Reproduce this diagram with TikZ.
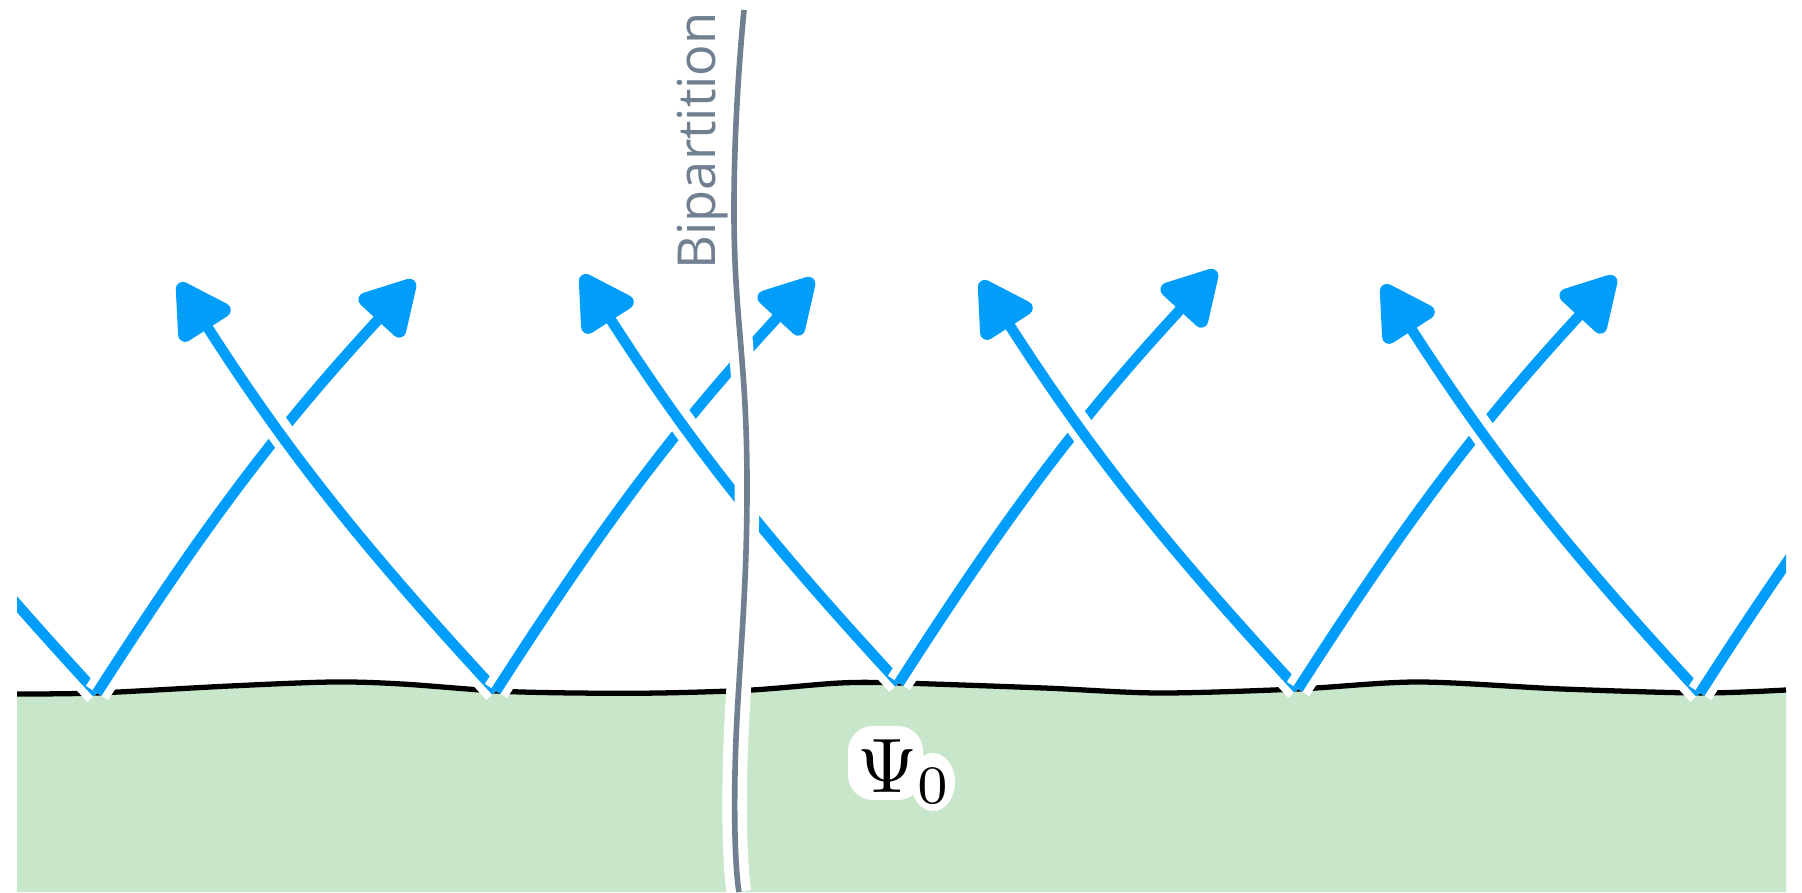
\documentclass[tikz,border=0pt]{standalone}
\usepackage{fontspec}
\newfontfamily\cutfont{Open Sans}
\usetikzlibrary{arrows.meta}
\definecolor{raycol}{RGB}{0,157,250}
\definecolor{cutcol}{RGB}{112,128,144}
\definecolor{bulkcol}{RGB}{200,230,201}

\begin{document}
\begin{tikzpicture}[
  ray/.style={draw=raycol,line width=3pt,preaction={draw=white,line width=7.5pt,-},
    -{Triangle[length=6.2mm,width=6.6mm,round,line width=4pt,sep=1.3mm]}},
  cut/.style={draw=cutcol,line width=1.6pt,preaction={draw=white,line width=7pt}}]
\useasboundingbox (0,0) rectangle (18.02,8.92);
\begin{scope}
\clip (0.17,0) rectangle (17.86,8.92);
% ground state
\fill[bulkcol] plot[smooth] coordinates {(0.17,1.98) (0.97,1.99) (2.30,2.06) (3.33,2.10) (4.02,2.08) (4.96,2.01) (5.74,1.99) (6.60,1.99) (7.52,2.02) (8.40,2.09) (8.99,2.09) (10.44,2.04) (11.59,1.99) (12.98,2.03) (14.18,2.10) (15.62,2.03) (17.00,1.99) (17.86,2.02)}
  -- (17.86,0) -- (0.17,0) -- cycle;
\draw[line width=1.5pt] plot[smooth] coordinates {(0.17,1.98) (0.97,1.99) (2.30,2.06) (3.33,2.10) (4.02,2.08) (4.96,2.01) (5.74,1.99) (6.60,1.99) (7.52,2.02) (8.40,2.09) (8.99,2.09) (10.44,2.04) (11.59,1.99) (12.98,2.03) (14.18,2.10) (15.62,2.03) (17.00,1.99) (17.86,2.02)};
% light cones
\foreach \x/\y [count=\k] in {0.97/1.99,4.96/2.01,8.99/2.09,12.98/2.03,17.00/1.99} {
  \coordinate (e\k) at (\x,\y);
  \coordinate (l\k) at ([shift={(-3.24,4.19)}]e\k);
  \coordinate (r\k) at ([shift={(3.26,4.22)}]e\k);
  \draw[ray] (e\k) to[bend left=5] (l\k);
  \draw[ray] (e\k) to[bend left=5] (r\k);
}
% bipartition
\draw[cut] plot[smooth,tension=0.8] coordinates {(7.44,8.82) (7.34,6.74) (7.47,4.09) (7.35,1.2) (7.39,0)};
\end{scope}
\node[rotate=90,anchor=base west,inner sep=0pt,text=cutcol,font=\cutfont\fontsize{14.9}{18}\selectfont] (cutlabel) at (7.15,6.22) {Bipartition};
% label halo
\fill[white,rounded corners=0.25cm] (8.48,0.92) rectangle (9.23,1.66);
\fill[white] (9.33,1.1) ellipse (0.22 and 0.29);
\node[anchor=base west,inner sep=0pt] (psi) at (8.57,1.0) {\scalebox{2.2}{$\Psi_0$}};
\end{tikzpicture}
\end{document}
